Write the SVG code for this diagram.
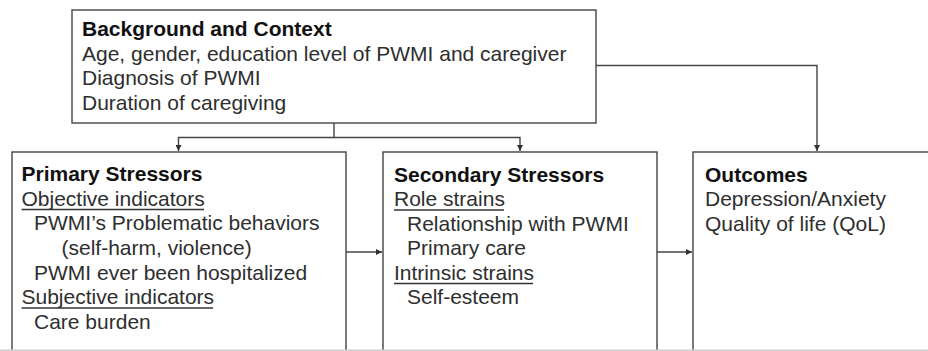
<svg xmlns="http://www.w3.org/2000/svg" width="928" height="351" viewBox="0 0 928 351">
  <style>
    .box { fill: #ffffff; stroke: #444444; stroke-width: 1.4; }
    .t { font-family: "Liberation Sans", Arial, sans-serif; font-size: 21px; fill: #2e2e2e; }
    .h { font-weight: bold; fill: #111111; }
    .ul { stroke: #333333; stroke-width: 1.3; }
    .edge { fill: none; stroke: #444444; stroke-width: 1.4; }
  </style>
  <defs>
    <marker id="arrow" viewBox="0 0 8 8" refX="8" refY="4" markerWidth="6" markerHeight="6" orient="auto" markerUnits="userSpaceOnUse">
      <path d="M0,0 L8,4 L0,8 Z" fill="#333333"/>
    </marker>
  </defs>
  <rect width="928" height="351" fill="#ffffff"/>

  <g id="background-context">
    <rect class="box" x="72" y="10" width="524" height="113"/>
    <text class="t h" x="82" y="36">Background and Context</text>
    <text class="t" x="82" y="60.5">Age, gender, education level of PWMI and caregiver</text>
    <text class="t" x="82" y="85">Diagnosis of PWMI</text>
    <text class="t" x="82" y="109.5">Duration of caregiving</text>
  </g>

  <g id="primary-stressors">
    <rect class="box" x="12" y="152" width="334" height="210"/>
    <text class="t h" x="21.5" y="181">Primary Stressors</text>
    <text class="t" x="21.5" y="205.5">Objective indicators</text>
    <line class="ul" x1="21.5" y1="209.5" x2="204" y2="209.5"/>
    <text class="t" x="34" y="230">PWMI’s Problematic behaviors</text>
    <text class="t" x="61.5" y="254.5">(self-harm, violence)</text>
    <text class="t" x="34" y="279.5">PWMI ever been hospitalized</text>
    <text class="t" x="21.5" y="304">Subjective indicators</text>
    <line class="ul" x1="21.5" y1="308" x2="213" y2="308"/>
    <text class="t" x="34" y="328.5">Care burden</text>
  </g>

  <g id="secondary-stressors">
    <rect class="box" x="383" y="152" width="274" height="210"/>
    <text class="t h" x="394" y="181.5">Secondary Stressors</text>
    <text class="t" x="394" y="206">Role strains</text>
    <line class="ul" x1="394" y1="210" x2="504" y2="210"/>
    <text class="t" x="407" y="230.5">Relationship with PWMI</text>
    <text class="t" x="407" y="255">Primary care</text>
    <text class="t" x="394" y="279.5">Intrinsic strains</text>
    <line class="ul" x1="394" y1="283.5" x2="533" y2="283.5"/>
    <text class="t" x="407" y="304">Self-esteem</text>
  </g>

  <g id="outcomes">
    <rect class="box" x="693" y="152" width="260" height="210"/>
    <text class="t h" x="705" y="181.5">Outcomes</text>
    <text class="t" x="705" y="206">Depression/Anxiety</text>
    <text class="t" x="705" y="230.5">Quality of life (QoL)</text>
  </g>

  <g id="connectors">
    <!-- background splits down to both stressor boxes -->
    <path class="edge" d="M334,123 V137.5"/>
    <path class="edge" d="M334,137.5 H178.5 V151" marker-end="url(#arrow)"/>
    <path class="edge" d="M334,137.5 H520 V151" marker-end="url(#arrow)"/>
    <!-- background straight to outcomes -->
    <path class="edge" d="M596,65.5 H817 V151" marker-end="url(#arrow)"/>
    <!-- stress chain -->
    <path class="edge" d="M346,252 H382" marker-end="url(#arrow)"/>
    <path class="edge" d="M657,252 H692" marker-end="url(#arrow)"/>
  </g>

  <!-- faint lower border -->
  <rect x="0" y="349.5" width="928" height="1.5" fill="#d0d0d0"/>
</svg>
